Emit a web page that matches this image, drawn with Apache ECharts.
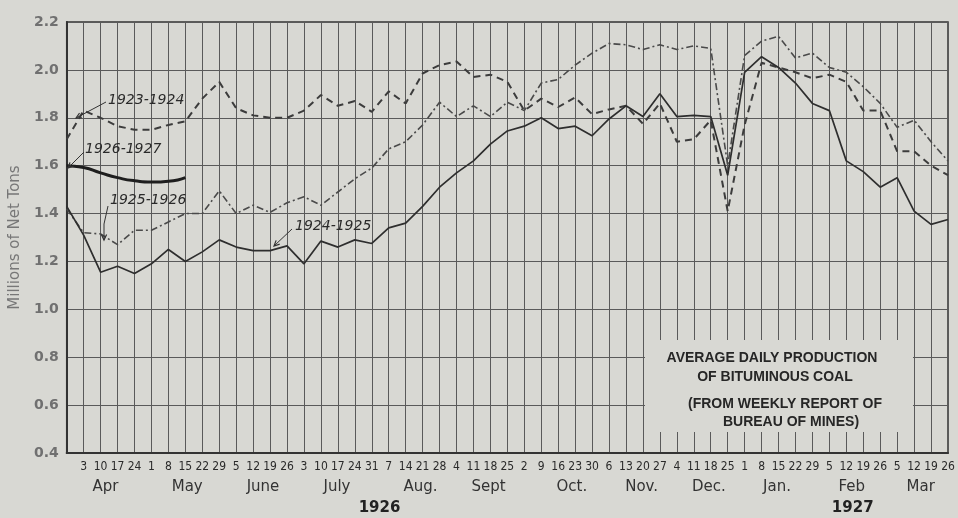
<!DOCTYPE html>
<html><head><meta charset="utf-8">
<script src="https://cdn.jsdelivr.net/npm/echarts/dist/echarts.min.js"></script>
<style>html,body{margin:0;padding:0;background:#d8d8d3}#c{width:958px;height:518px}</style>
</head><body><div id="c"></div>
<script>
// ---- data ----
const weeks = ['', '3','10','17','24', '1','8','15','22','29', '5','12','19','26', '3','10','17','24','31',
  '7','14','21','28', '4','11','18','25', '2','9','16','23','30', '6','13','20','27', '4','11','18','25',
  '1','8','15','22','29', '5','12','19','26', '5','12','19','26'];
const months = ['Apr','May','June','July','Aug.','Sept','Oct.','Nov.','Dec.','Jan.','Feb','Mar'];
const monthWeeks = [4,5,4,5,4,4,5,4,4,5,4,4];
const years = ['1926','1927'];
const yMin = 0.4, yMax = 2.2, yStep = 0.2;

const s1923_24 = [1.71,1.83,1.80,1.765,1.75,1.75,1.77,1.785,1.88,1.95,1.84,1.81,1.80,1.80,1.83,1.895,1.85,1.87,1.825,
  1.91,1.86,1.985,2.02,2.035,1.97,1.98,1.95,1.83,1.88,1.845,1.885,1.815,1.835,1.85,1.775,1.86,1.70,1.71,1.79,1.41,
  1.77,2.03,2.01,1.99,1.965,1.98,1.95,1.83,1.83,1.66,1.66,1.60,1.56];
const s1924_25 = [1.43,1.31,1.155,1.18,1.15,1.19,1.25,1.20,1.24,1.29,1.26,1.245,1.245,1.265,1.19,1.285,1.26,1.29,1.275,
  1.34,1.36,1.43,1.51,1.57,1.62,1.69,1.745,1.765,1.80,1.755,1.765,1.725,1.795,1.85,1.805,1.90,1.805,1.81,1.805,1.56,
  1.99,2.055,2.01,1.945,1.86,1.83,1.62,1.575,1.51,1.55,1.41,1.355,1.375];
const s1925_26 = [1.42,1.32,1.315,1.27,1.33,1.33,1.365,1.40,1.40,1.495,1.40,1.435,1.405,1.445,1.47,1.435,1.49,1.545,1.59,
  1.67,1.70,1.77,1.865,1.805,1.85,1.805,1.865,1.83,1.945,1.96,2.02,2.07,2.11,2.105,2.085,2.105,2.085,2.10,2.09,1.60,
  2.06,2.12,2.14,2.05,2.07,2.01,1.99,1.93,1.86,1.76,1.79,1.70,1.62];
const s1926_27 = [1.60,1.592,1.57,1.55,1.537,1.532,1.535,1.55];

// ---- layout ----
const G = {left:63, top:22, right:10, bottom:65};
const W = 958 - G.left - G.right;
const step = W / (weeks.length - 1);
const xAt = i => G.left + i * step;
const monthShift = [0,0.3,0.25,0.1,0.5,0.5,0.9,0.5,0.45,-0.05,-0.15,-0.1];
const yearAt = [18.6, 46.4];
const BG = '#d8d8d3', GRID = '#5a5a5a';

const graphic = [];
let start = 1;
months.forEach((m, k) => {
  const c = start + (monthWeeks[k] - 1) / 2 + monthShift[k];
  start += monthWeeks[k];
  graphic.push({type:'text', z:20, style:{text:m, x:xAt(c), y:487, textAlign:'center', textVerticalAlign:'middle',
    fill:'#333', fontSize:15, fontFamily:'"DejaVu Sans", sans-serif'}});
});
years.forEach((t, k) => graphic.push({type:'text', z:20, style:{text:t, x:xAt(yearAt[k]), y:508, textAlign:'center',
  textVerticalAlign:'middle', fill:'#222', fontSize:15, fontWeight:'bold', fontFamily:'"DejaVu Sans", sans-serif'}}));

// caption box
graphic.push({type:'rect', z:15, shape:{x:645, y:340, width:268, height:92}, style:{fill:BG}});
[['AVERAGE DAILY PRODUCTION',772,358],['OF BITUMINOUS COAL',775,377],['(FROM WEEKLY REPORT OF',785,404],['BUREAU OF MINES)',791,422]]
  .forEach(([t,x,y]) => graphic.push({type:'text', z:20, style:{text:t, x, y, textAlign:'center', textVerticalAlign:'middle',
    fill:'#262626', fontSize:14, fontWeight:'bold', fontFamily:'"Liberation Sans", Arial, sans-serif'}}));

// series labels with leaders
const lab = (t, x, y) => graphic.push({type:'text', z:20, style:{text:t, x, y, textAlign:'left', textVerticalAlign:'middle',
  fill:'#2a2a2a', fontSize:14, fontStyle:'italic', fontFamily:'"DejaVu Sans", sans-serif'}});
const lead = (pts) => {
  graphic.push({type:'polyline', z:20, shape:{points:pts}, style:{stroke:'#333', lineWidth:1, fill:null}});
  const [x1,y1] = pts[pts.length-2], [x2,y2] = pts[pts.length-1];
  const a = Math.atan2(y2-y1, x2-x1), L = 6;
  graphic.push({type:'polyline', z:20, shape:{points:[[x2-L*Math.cos(a-0.45), y2-L*Math.sin(a-0.45)],[x2,y2],
    [x2-L*Math.cos(a+0.45), y2-L*Math.sin(a+0.45)]]}, style:{stroke:'#333', lineWidth:1.2, fill:null}});
};
lab('1923-1924', 108, 100); lead([[106,102],[76,118]]);
lab('1926-1927', 85, 149); lead([[84,152],[68,168]]);
lab('1925-1926', 110, 200); lead([[108,206],[104,224],[104,240]]);
lab('1924-1925', 295, 226); lead([[292,229],[274,246]]);

const chart = echarts.init(document.getElementById('c'));
chart.setOption({
  backgroundColor: BG,
  animation: false,
  grid: {left:G.left, top:G.top, right:G.right, bottom:G.bottom, show:true, borderColor:'#333', borderWidth:1.5},
  xAxis: {type:'category', data:weeks, boundaryGap:false,
    axisLine:{show:true, lineStyle:{color:'#333', width:2}}, axisTick:{show:false},
    axisLabel:{interval:0, color:'#2a2a2a', fontSize:12, margin:8, fontFamily:'"DejaVu Sans Condensed","Liberation Sans Narrow","Liberation Sans",sans-serif'},
    splitLine:{show:true, interval:0, lineStyle:{color:GRID, width:1}}},
  yAxis: {type:'value', min:yMin, max:yMax, interval:yStep,
    name:'Millions of Net Tons', nameLocation:'middle', nameGap:41, nameRotate:90,
    nameTextStyle:{color:'#777', fontSize:15, fontFamily:'"DejaVu Sans", sans-serif'},
    axisLine:{show:true, lineStyle:{color:'#333', width:2}}, axisTick:{show:false},
    axisLabel:{color:'#707070', fontSize:14, fontWeight:'bold', margin:8, formatter:v => v.toFixed(1),
      fontFamily:'"DejaVu Sans", sans-serif'},
    splitLine:{show:true, lineStyle:{color:GRID, width:1}}},
  series: [
    {name:'1923-1924', type:'line', data:s1923_24, symbol:'none', z:3,
      lineStyle:{color:'#3c3c3c', width:2, type:[7,5]}},
    {name:'1925-1926', type:'line', data:s1925_26, symbol:'none', z:3,
      lineStyle:{color:'#4a4a4a', width:1.6, type:[7,3,2,3]}},
    {name:'1924-1925', type:'line', data:s1924_25, symbol:'none', z:4,
      lineStyle:{color:'#2e2e2e', width:1.7}},
    {name:'1926-1927', type:'line', data:s1926_27, symbol:'none', smooth:0.6, z:5,
      lineStyle:{color:'#1e1e1e', width:3}}
  ],
  graphic: graphic
});
</script></body></html>
